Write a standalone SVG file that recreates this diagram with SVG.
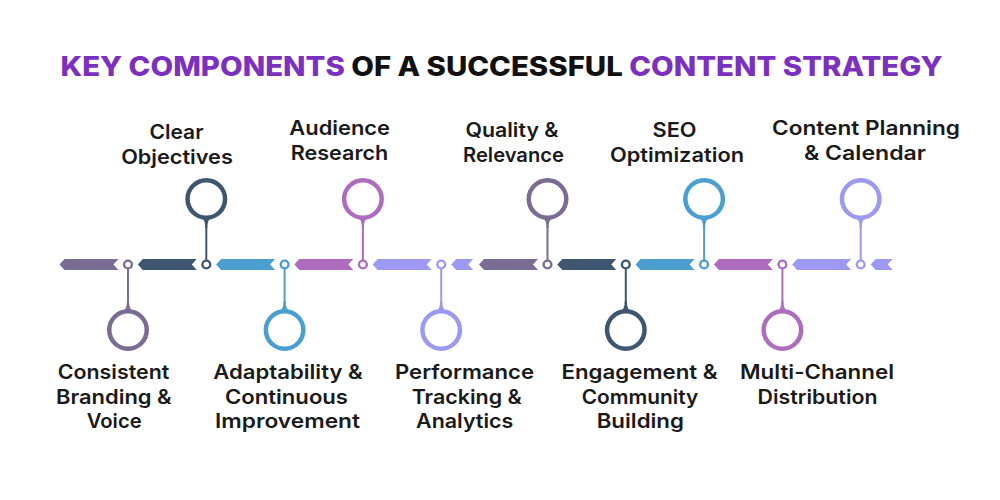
<svg xmlns="http://www.w3.org/2000/svg" xmlns:xlink="http://www.w3.org/1999/xlink" width="1000" height="500" viewBox="0 0 1000 500">
<style>
.gp{color:#7a6c93}
.ds{color:#3e5670}
.bl{color:#4a9fd0}
.pu{color:#ae6cbf}
.lv{color:#9d99f3}
.ring{fill:#fff;stroke:currentColor;stroke-width:4.5}
.dot{fill:#fff;stroke:currentColor;stroke-width:2.4}
.neck{fill:currentColor}
.stem{stroke:currentColor;stroke-width:2;fill:none}
.bar{fill:currentColor}
.lbl{font-family:Inter,"Open Sans","Liberation Sans",sans-serif;font-weight:600;font-size:20px;fill:#1a1a1a;text-anchor:middle}
.title{font-family:Inter,"Open Sans","Liberation Sans",sans-serif;font-weight:800;font-size:27px;text-anchor:middle}
.hl{fill:#7b30c0}
.bk{fill:#111}
</style>
<defs>
<path id="bar" d="M0,0 l5,-5.5 h54 l-5,5.5 l5,5.5 h-54 z"/>
<path id="stub" d="M0,0 l5,-5.5 h17 l-5,5.5 l5,5.5 h-17 z"/>
</defs>
<rect width="1000" height="500" fill="#fff"/>
<text class="title" x="501.5" y="76" textLength="882" lengthAdjust="spacingAndGlyphs"><tspan class="hl">KEY COMPONENTS </tspan><tspan class="bk">OF A SUCCESSFUL </tspan><tspan class="hl">CONTENT STRATEGY</tspan></text>

<g id="timeline">
<use href="#bar" x="59.5" y="264.5" class="bar gp"/>
<use href="#bar" x="137.8" y="264.5" class="bar ds"/>
<use href="#bar" x="216.1" y="264.5" class="bar bl"/>
<use href="#bar" x="294.4" y="264.5" class="bar pu"/>
<use href="#bar" x="372.7" y="264.5" class="bar lv"/>
<use href="#stub" x="451.2" y="264.5" class="bar lv"/>
<use href="#bar" x="479" y="264.5" class="bar gp"/>
<use href="#bar" x="557.3" y="264.5" class="bar ds"/>
<use href="#bar" x="635.6" y="264.5" class="bar bl"/>
<use href="#bar" x="713.9" y="264.5" class="bar pu"/>
<use href="#bar" x="792.2" y="264.5" class="bar lv"/>
<use href="#stub" x="870.7" y="264.5" class="bar lv"/>
</g>

<g id="connectors">
<line class="stem gp" x1="128" y1="268.9" x2="128" y2="304"/>
<line class="stem ds" x1="206.3" y1="226" x2="206.3" y2="260.1"/>
<line class="stem bl" x1="284.6" y1="268.9" x2="284.6" y2="304"/>
<line class="stem pu" x1="362.9" y1="226" x2="362.9" y2="260.1"/>
<line class="stem lv" x1="441.2" y1="268.9" x2="441.2" y2="304"/>
<line class="stem gp" x1="547.5" y1="226" x2="547.5" y2="260.1"/>
<line class="stem ds" x1="625.8" y1="268.9" x2="625.8" y2="304"/>
<line class="stem bl" x1="704.1" y1="226" x2="704.1" y2="260.1"/>
<line class="stem pu" x1="782.4" y1="268.9" x2="782.4" y2="304"/>
<line class="stem lv" x1="860.7" y1="226" x2="860.7" y2="260.1"/>
</g>

<g id="node-consistent-branding" class="gp">
<path class="neck" d="M122,312 Q127,310 127,301 L129,301 Q129,310 134,312 Z"/>
<circle class="ring" cx="128" cy="330" r="18.75"/>
<circle class="dot" cx="128" cy="264.5" r="3.9"/>
<text class="lbl" x="113.5" y="379" textLength="111.6" lengthAdjust="spacingAndGlyphs">Consistent</text>
<text class="lbl" x="113.8" y="403.5" textLength="115.7" lengthAdjust="spacingAndGlyphs">Branding &amp;</text>
<text class="lbl" x="114.2" y="428" textLength="55" lengthAdjust="spacingAndGlyphs">Voice</text>
</g>

<g id="node-clear-objectives" class="ds">
<path class="neck" d="M200.3,217 Q205.3,219 205.3,228 L207.3,228 Q207.3,219 212.3,217 Z"/>
<circle class="ring" cx="206.3" cy="199" r="18.75"/>
<circle class="dot" cx="206.3" cy="264.5" r="3.9"/>
<text class="lbl" x="176.5" y="139" textLength="54" lengthAdjust="spacingAndGlyphs">Clear</text>
<text class="lbl" x="177" y="163.5" textLength="111.7" lengthAdjust="spacingAndGlyphs">Objectives</text>
</g>

<g id="node-adaptability" class="bl">
<path class="neck" d="M278.6,312 Q283.6,310 283.6,301 L285.6,301 Q285.6,310 290.6,312 Z"/>
<circle class="ring" cx="284.6" cy="330" r="18.75"/>
<circle class="dot" cx="284.6" cy="264.5" r="3.9"/>
<text class="lbl" x="288" y="379" textLength="149.4" lengthAdjust="spacingAndGlyphs">Adaptability &amp;</text>
<text class="lbl" x="286.5" y="403.5" textLength="123" lengthAdjust="spacingAndGlyphs">Continuous</text>
<text class="lbl" x="287.5" y="428" textLength="145" lengthAdjust="spacingAndGlyphs">Improvement</text>
</g>

<g id="node-audience-research" class="pu">
<path class="neck" d="M356.9,217 Q361.9,219 361.9,228 L363.9,228 Q363.9,219 368.9,217 Z"/>
<circle class="ring" cx="362.9" cy="199" r="18.75"/>
<circle class="dot" cx="362.9" cy="264.5" r="3.9"/>
<text class="lbl" x="339.7" y="135" textLength="100.7" lengthAdjust="spacingAndGlyphs">Audience</text>
<text class="lbl" x="339.5" y="159.5" textLength="97.6" lengthAdjust="spacingAndGlyphs">Research</text>
</g>

<g id="node-performance" class="lv">
<path class="neck" d="M435.2,312 Q440.2,310 440.2,301 L442.2,301 Q442.2,310 447.2,312 Z"/>
<circle class="ring" cx="441.2" cy="330" r="18.75"/>
<circle class="dot" cx="441.2" cy="264.5" r="3.9"/>
<text class="lbl" x="464.5" y="379" textLength="139" lengthAdjust="spacingAndGlyphs">Performance</text>
<text class="lbl" x="466.7" y="403.5" textLength="110" lengthAdjust="spacingAndGlyphs">Tracking &amp;</text>
<text class="lbl" x="464.7" y="428" textLength="97.3" lengthAdjust="spacingAndGlyphs">Analytics</text>
</g>

<g id="node-quality" class="gp">
<path class="neck" d="M541.5,217 Q546.5,219 546.5,228 L548.5,228 Q548.5,219 553.5,217 Z"/>
<circle class="ring" cx="547.5" cy="199" r="18.75"/>
<circle class="dot" cx="547.5" cy="264.5" r="3.9"/>
<text class="lbl" x="512" y="137" textLength="93" lengthAdjust="spacingAndGlyphs">Quality &amp;</text>
<text class="lbl" x="513.5" y="161.5" textLength="101" lengthAdjust="spacingAndGlyphs">Relevance</text>
</g>

<g id="node-engagement" class="ds">
<path class="neck" d="M619.8,312 Q624.8,310 624.8,301 L626.8,301 Q626.8,310 631.8,312 Z"/>
<circle class="ring" cx="625.8" cy="330" r="18.75"/>
<circle class="dot" cx="625.8" cy="264.5" r="3.9"/>
<text class="lbl" x="639.5" y="379" textLength="156" lengthAdjust="spacingAndGlyphs">Engagement &amp;</text>
<text class="lbl" x="640" y="403.5" textLength="116.6" lengthAdjust="spacingAndGlyphs">Community</text>
<text class="lbl" x="640.3" y="428" textLength="87.3" lengthAdjust="spacingAndGlyphs">Building</text>
</g>

<g id="node-seo" class="bl">
<path class="neck" d="M698.1,217 Q703.1,219 703.1,228 L705.1,228 Q705.1,219 710.1,217 Z"/>
<circle class="ring" cx="704.1" cy="199" r="18.75"/>
<circle class="dot" cx="704.1" cy="264.5" r="3.9"/>
<text class="lbl" x="674.5" y="137" textLength="44" lengthAdjust="spacingAndGlyphs">SEO</text>
<text class="lbl" x="677" y="161.5" textLength="134" lengthAdjust="spacingAndGlyphs">Optimization</text>
</g>

<g id="node-multichannel" class="pu">
<path class="neck" d="M776.4,312 Q781.4,310 781.4,301 L783.4,301 Q783.4,310 788.4,312 Z"/>
<circle class="ring" cx="782.4" cy="330" r="18.75"/>
<circle class="dot" cx="782.4" cy="264.5" r="3.9"/>
<text class="lbl" x="817" y="379" textLength="154" lengthAdjust="spacingAndGlyphs">Multi-Channel</text>
<text class="lbl" x="817.5" y="403.5" textLength="120" lengthAdjust="spacingAndGlyphs">Distribution</text>
</g>

<g id="node-content-planning" class="lv">
<path class="neck" d="M854.7,217 Q859.7,219 859.7,228 L861.7,228 Q861.7,219 866.7,217 Z"/>
<circle class="ring" cx="860.7" cy="199" r="18.75"/>
<circle class="dot" cx="860.7" cy="264.5" r="3.9"/>
<text class="lbl" x="866" y="135" textLength="188" lengthAdjust="spacingAndGlyphs">Content Planning</text>
<text class="lbl" x="865" y="159.5" textLength="122" lengthAdjust="spacingAndGlyphs">&amp; Calendar</text>
</g>
</svg>
